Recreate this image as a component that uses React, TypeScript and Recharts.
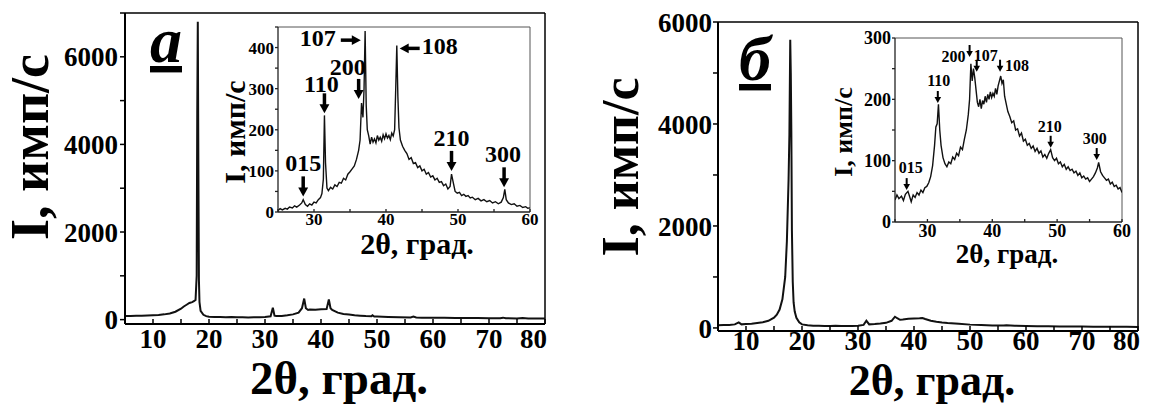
import { LineChart, Line, XAxis, YAxis, ReferenceLine, ReferenceDot } from "recharts"

const SERIF = "'Liberation Serif', 'Times New Roman', serif"
const INK = "#111"

// ---- panel а: full scan ----
const mainA2Theta = [
  5, 6, 7, 8, 9, 10, 11, 12, 13, 14, 15, 15.5, 16, 16.5, 17, 17.3, 17.6, 17.8, 17.9, 18.0, 18.1, 18.2, 18.3,
  18.5, 19, 19.5, 20, 21, 22, 23, 24, 25, 26, 27, 28, 29, 30, 31, 31.4, 31.7, 32, 33, 34, 35, 36, 36.6, 37.0,
  37.3, 37.7, 38, 39, 40, 41, 41.4, 41.7, 42, 43, 44, 45, 46, 47, 48, 49, 49.2, 49.5, 50, 52, 54, 56, 56.5, 57,
  58, 60, 62, 64, 66, 68, 70, 72, 72.5, 73, 75, 76, 77, 80,
]
const mainAIntensity = [
  80, 85, 90, 88, 95, 100, 105, 120, 140, 180, 250, 300, 340, 380, 400, 420, 450, 1000, 4700, 6800, 3600, 900, 400,
  200, 110, 80, 65, 60, 58, 55, 57, 52, 55, 50, 55, 52, 60, 75, 270, 90, 80, 85, 100, 120, 160, 260, 480,
  260, 220, 230, 225, 235, 240, 460, 260, 220, 160, 130, 115, 100, 90, 80, 75, 100, 72, 70, 62, 55, 50, 70, 48,
  45, 42, 40, 38, 36, 35, 34, 32, 45, 30, 28, 35, 26, 25,
]

// ---- panel а: inset 25–60° ----
const insetA2Theta = [
  25, 25.3, 25.6, 26, 26.3, 26.6, 27, 27.3, 27.6, 28, 28.3, 28.5, 28.8, 29.1, 29.4, 29.7, 30, 30.3, 30.6, 30.9,
  31.1, 31.3, 31.45, 31.6, 31.8, 32, 32.3, 32.6, 32.9, 33.2, 33.5, 33.8, 34.1, 34.4, 34.7, 35, 35.3, 35.6, 35.9,
  36.2, 36.4, 36.6, 36.8, 36.95, 37.1, 37.25, 37.4, 37.6, 37.8, 38, 38.2, 38.4, 38.6, 38.8, 39, 39.2, 39.4, 39.6,
  39.8, 40, 40.2, 40.4, 40.6, 40.8, 41, 41.2, 41.35, 41.5, 41.65, 41.8, 42, 42.3, 42.6, 42.9, 43.2, 43.5, 43.8,
  44.1, 44.4, 44.7, 45, 45.3, 45.6, 45.9, 46.2, 46.5, 46.8, 47.1, 47.4, 47.7, 48, 48.3, 48.6, 48.9, 49.1, 49.3,
  49.6, 49.9, 50.2, 50.5, 50.8, 51.1, 51.4, 51.7, 52, 52.4, 52.8, 53.2, 53.6, 54, 54.4, 54.8, 55.2, 55.6, 56,
  56.3, 56.5, 56.7, 57, 57.4, 57.8, 58.2, 58.6, 59, 59.4, 59.7, 60,
]
const insetAIntensity = [
  4, 8, 5, 9, 7, 12, 10, 15, 12, 17, 22, 30, 18, 14, 20, 17, 24, 22, 30, 35,
  45, 80, 235, 120, 58, 52, 60, 56, 66, 62, 72, 70, 82, 78, 92, 98, 105, 112, 128,
  150, 175, 265, 230, 300, 440, 260, 200, 185, 165, 182, 170, 178, 168, 186, 175, 182, 172, 188,
  178, 190, 180, 186, 176, 192, 185, 200, 300, 405, 280, 205, 175, 160, 150, 142, 128, 132, 118,
  120, 108, 112, 100, 104, 92, 96, 85, 88, 78, 82, 72, 74, 64, 68, 56, 62, 92, 75,
  50, 46, 48, 40, 43, 38, 40, 34, 36, 30, 33, 27, 30, 25, 28, 22, 25, 20, 24,
  35, 55, 30, 22, 18, 20, 14, 16, 11, 13, 9, 10,
]
const insetATags = ["015", "110", "200", "107", "108", "210", "300"]
const insetATag2Theta = [28.5, 31.45, 36.2, 36.5, 41.9, 49.1, 56.4]
const insetATagI = [38, 240, 275, 418, 398, 100, 60]
const insetATagDir = ["down", "down", "down", "right", "left", "down", "down"]

// ---- panel б: full scan ----
const mainB2Theta = [
  5, 6, 7, 8, 8.7, 9.2, 10, 11, 12, 13, 14, 15, 15.5, 16, 16.5, 17, 17.3, 17.6, 17.75, 17.9, 18.0, 18.1, 18.2,
  18.35, 18.5, 18.7, 19, 19.5, 20, 21, 22, 23, 24, 25, 26, 27, 28, 29, 30, 31, 31.5, 32, 33, 34, 35, 36, 36.6,
  37, 37.5, 38, 39, 40, 41, 41.5, 42, 43, 44, 45, 46, 48, 50, 52, 54, 56, 56.5, 58, 60, 62, 64, 66, 68, 70, 72,
  74, 76, 78, 80,
]
const mainBIntensity = [
  55, 60, 58, 70, 110, 70, 75, 80, 95, 110, 140, 200, 260, 360, 560, 1000, 1700, 2900, 3800, 5650, 5000, 3800, 1900,
  900, 500, 320, 200, 110, 70, 55, 45, 42, 40, 38, 42, 36, 40, 38, 45, 60, 140, 70, 75, 85, 100, 140, 220,
  190, 160, 165, 180, 185, 190, 195, 175, 140, 120, 105, 95, 80, 65, 58, 50, 48, 55, 42, 38, 35, 32, 30, 28, 26, 25,
  24, 22, 22, 20,
]

// ---- panel б: inset 25–60° ----
const insetB2Theta = [
  25, 25.3, 25.6, 26, 26.3, 26.6, 27, 27.3, 27.5, 27.8, 28.1, 28.4, 28.7, 29, 29.3, 29.6, 29.9, 30.2, 30.5, 30.8,
  31.1, 31.3, 31.5, 31.7, 31.9, 32.1, 32.4, 32.7, 33, 33.3, 33.6, 33.9, 34.2, 34.5, 34.8, 35.1, 35.4, 35.7, 36,
  36.3, 36.5, 36.7, 36.9, 37.1, 37.3, 37.5, 37.7, 37.9, 38.1, 38.3, 38.5, 38.7, 38.9, 39.1, 39.3, 39.5, 39.7,
  39.9, 40.1, 40.3, 40.5, 40.7, 40.9, 41.1, 41.3, 41.5, 41.7, 41.9, 42.1, 42.4, 42.7, 43, 43.3, 43.6, 43.9, 44.2,
  44.5, 44.8, 45.1, 45.4, 45.7, 46, 46.3, 46.6, 46.9, 47.2, 47.5, 47.8, 48.1, 48.4, 48.7, 49, 49.3, 49.6, 49.9,
  50.2, 50.5, 50.8, 51.1, 51.4, 51.7, 52, 52.3, 52.6, 52.9, 53.2, 53.5, 53.8, 54.1, 54.4, 54.7, 55, 55.3, 55.6,
  55.9, 56.2, 56.4, 56.7, 57, 57.3, 57.6, 57.9, 58.2, 58.5, 58.8, 59.1, 59.4, 59.7, 60,
]
const insetBIntensity = [
  36, 44, 38, 42, 35, 45, 50, 40, 33, 44, 40, 48, 44, 52, 48, 56, 58, 64, 74, 92,
  125, 155, 160, 192, 150, 125, 105, 95, 90, 98, 95, 106, 102, 112, 108, 122, 118, 135, 150,
  175, 200, 258, 230, 250, 235, 215, 195, 188, 200, 185, 198, 192, 205, 195, 208, 200, 212,
  203, 210, 205, 218, 208, 222, 230, 238, 226, 232, 205, 195, 180, 172, 162, 165, 150, 152, 140,
  145, 132, 135, 125, 128, 120, 124, 115, 120, 112, 116, 106, 110, 104, 112, 118, 105, 100, 104,
  95, 98, 90, 94, 86, 90, 84, 86, 80, 83, 76, 80, 72, 75, 70, 72, 66, 70, 74,
  80, 88, 97, 82, 76, 72, 68, 70, 62, 65, 58, 60, 54, 56, 48,
]
const insetBTags = ["015", "110", "200", "107", "108", "210", "300"]
const insetBTag2Theta = [26.8, 31.6, 36.5, 37.6, 41.2, 49.0, 56.1]
const insetBTagI = [52, 194, 269, 245, 245, 121, 101]
const insetBTagDir = ["down", "down", "down", "down", "down", "down", "down"]

// axis ticks
const mainXTicks = [5, 10, 15, 20, 25, 30, 35, 40, 45, 50, 55, 60, 65, 70, 75, 80]
const mainAYTicks = [0, 1000, 2000, 3000, 4000, 5000, 6000, 7000]
const mainBYTicks = [0, 1000, 2000, 3000, 4000, 5000, 6000]
const insetXTicks = [25, 30, 35, 40, 45, 50, 55, 60]
const insetAYTicks = [0, 50, 100, 150, 200, 250, 300, 350, 400, 450]
const insetBYTicks = [0, 50, 100, 150, 200, 250, 300]

const zip = (xs: number[], ys: number[]) => xs.map((x, i) => ({ x, y: ys[i] }))

// text placement of the peak tags (px relative to the arrow tip)
const tagTextA: Record<string, { dx: number; dy: number; anchor: string }> = {
  "015": { dx: 0, dy: -25, anchor: "middle" },
  "110": { dx: -3, dy: -21, anchor: "middle" },
  "200": { dx: -11, dy: -24, anchor: "middle" },
  "107": { dx: -25, dy: 6, anchor: "end" },
  "108": { dx: 22, dy: 6, anchor: "start" },
  "210": { dx: 0, dy: -25, anchor: "middle" },
  "300": { dx: -1, dy: -25, anchor: "middle" },
}
const tagTextB: Record<string, { dx: number; dy: number; anchor: string }> = {
  "015": { dx: 4, dy: -17, anchor: "middle" },
  "110": { dx: 1, dy: -17, anchor: "middle" },
  "200": { dx: -4, dy: 5, anchor: "end" },
  "107": { dx: -3, dy: -11, anchor: "start" },
  "108": { dx: 5, dy: -1, anchor: "start" },
  "210": { dx: -1, dy: -16, anchor: "middle" },
  "300": { dx: -2, dy: -16, anchor: "middle" },
}

function tagShape(label: string, dir: string, place: { dx: number; dy: number; anchor: string }, size: number, len: number, head: number, shaft: number) {
  return (p: any) => {
    const { cx, cy } = p
    if (cx == null || cy == null) return <g />
    const hw = head * 0.55
    let body
    if (dir === "down") {
      body = (
        <g>
          <line x1={cx} y1={cy - len} x2={cx} y2={cy - head + 1} stroke="#000" strokeWidth={shaft} />
          <polygon points={`${cx - hw},${cy - head} ${cx + hw},${cy - head} ${cx},${cy}`} fill="#000" />
        </g>
      )
    } else if (dir === "right") {
      body = (
        <g>
          <line x1={cx - len} y1={cy} x2={cx - head + 1} y2={cy} stroke="#000" strokeWidth={shaft} />
          <polygon points={`${cx - head},${cy - hw} ${cx - head},${cy + hw} ${cx},${cy}`} fill="#000" />
        </g>
      )
    } else {
      body = (
        <g>
          <line x1={cx + len} y1={cy} x2={cx + head - 1} y2={cy} stroke="#000" strokeWidth={shaft} />
          <polygon points={`${cx + head},${cy - hw} ${cx + head},${cy + hw} ${cx},${cy}`} fill="#000" />
        </g>
      )
    }
    return (
      <g>
        {body}
        <text x={cx + place.dx} y={cy + place.dy} textAnchor={place.anchor as any} fontFamily={SERIF} fontWeight="bold" fontSize={size} fill="#000">
          {label}
        </text>
      </g>
    )
  }
}

function hTick(size: number, every: number, last: number) {
  return (p: any) => {
    const v = p.payload.value
    if (v % every !== 0) return <g />
    const anchor = v === last ? "end" : "middle"
    return (
      <text x={v === last ? p.x + 2 : p.x} y={p.y} dy="0.71em" textAnchor={anchor} fontFamily={SERIF} fontWeight="bold" fontSize={size} fill="#000">
        {v}
      </text>
    )
  }
}

function vTick(size: number, every: number) {
  return (p: any) => {
    const v = p.payload.value
    if (v % every !== 0) return <g />
    return (
      <text x={p.x} y={p.y} dy="0.355em" textAnchor="end" fontFamily={SERIF} fontWeight="bold" fontSize={size} fill="#000">
        {v}
      </text>
    )
  }
}

function Title({ x, y, size, text, rotate }: { x: number; y: number; size: number; text: string; rotate?: boolean }) {
  return (
    <text
      x={x}
      y={y}
      textAnchor="middle"
      dominantBaseline={rotate ? "central" : "auto"}
      transform={rotate ? `rotate(-90 ${x} ${y})` : undefined}
      fontFamily={SERIF}
      fontWeight="bold"
      fontSize={size}
      fill="#000"
    >
      {text}
    </text>
  )
}

function Letter({ x, y, text }: { x: number; y: number; text: string }) {
  return (
    <text x={x} y={y} textAnchor="middle" fontFamily={SERIF} fontWeight="bold" fontStyle="italic" fontSize={64} fill="#000" textDecoration="underline">
      {text}
    </text>
  )
}

function MainPanel(props: {
  left: number
  data: { x: number; y: number }[]
  yDomain: [number, number]
  yTicks: number[]
  margin: { top: number; right: number; bottom: number; left: number }
  yWidth: number
  xMargin: number
  yMargin: number
  yTitle: { x: number; y: number; size: number }
  xTitle: { x: number; y: number; size: number }
  letter: { x: number; y: number; text: string }
}) {
  const { left, data, yDomain, yTicks, margin, yWidth } = props
  return (
    <div style={{ position: "absolute", left, top: 0 }}>
      <LineChart width={560} height={405} data={data} margin={margin}>
        <XAxis
          type="number"
          dataKey="x"
          domain={[5, 80]}
          ticks={mainXTicks}
          interval={0}
          allowDataOverflow
          height={40}
          tickSize={-5}
          tickMargin={props.xMargin}
          tick={hTick(27, 10, 80)}
          axisLine={{ stroke: "#000", strokeWidth: 2 }}
          tickLine={{ stroke: "#000", strokeWidth: 1.5 }}
        />
        <YAxis
          type="number"
          domain={yDomain}
          ticks={yTicks}
          interval={0}
          allowDataOverflow
          width={yWidth}
          tickSize={5}
          tickMargin={props.yMargin}
          tick={vTick(27, 2000)}
          axisLine={{ stroke: "#000", strokeWidth: 2 }}
          tickLine={{ stroke: "#000", strokeWidth: 1.5 }}
        />
        <ReferenceLine x={80} stroke="#000" strokeWidth={1.5} />
        <ReferenceLine y={yDomain[1]} stroke="#000" strokeWidth={1.5} />
        <Line type="linear" dataKey="y" stroke={INK} strokeWidth={2} dot={false} isAnimationActive={false} />
        <Title x={props.yTitle.x} y={props.yTitle.y} size={props.yTitle.size} text="I, имп/с" rotate />
        <Title x={props.xTitle.x} y={props.xTitle.y} size={props.xTitle.size} text="2θ, град." />
        <Letter x={props.letter.x} y={props.letter.y} text={props.letter.text} />
      </LineChart>
    </div>
  )
}

function InsetPanel(props: {
  left: number
  width: number
  height: number
  data: { x: number; y: number }[]
  yMax: number
  yTicks: number[]
  margin: { top: number; right: number; bottom: number; left: number }
  yWidth: number
  tickFont: number
  xMargin: number
  tags: string[]
  tagX: number[]
  tagY: number[]
  tagDir: string[]
  tagText: Record<string, { dx: number; dy: number; anchor: string }>
  tagFont: number
  arrow: { len: number; head: number; shaft: number }
  yTitle: { x: number; y: number; size: number }
  xTitle: { x: number; y: number; size: number }
}) {
  const { data, yMax, margin } = props
  return (
    <div style={{ position: "absolute", left: props.left, top: 0 }}>
      <LineChart width={props.width} height={props.height} data={data} margin={margin}>
        <XAxis
          type="number"
          dataKey="x"
          domain={[25, 60]}
          ticks={insetXTicks}
          interval={0}
          allowDataOverflow
          height={30}
          tickSize={-3}
          tickMargin={props.xMargin}
          tick={hTick(props.tickFont, 10, 999)}
          axisLine={{ stroke: "#222", strokeWidth: 1.3 }}
          tickLine={{ stroke: "#222", strokeWidth: 1.3 }}
        />
        <YAxis
          type="number"
          domain={[0, yMax]}
          ticks={props.yTicks}
          interval={0}
          allowDataOverflow
          width={props.yWidth}
          tickSize={3}
          tickMargin={1}
          tick={vTick(props.tickFont, 100)}
          axisLine={{ stroke: "#222", strokeWidth: 1.3 }}
          tickLine={{ stroke: "#222", strokeWidth: 1.3 }}
        />
        <ReferenceLine x={60} stroke="#555" strokeWidth={1} />
        <ReferenceLine y={yMax} stroke="#555" strokeWidth={1} />
        <Line type="linear" dataKey="y" stroke={INK} strokeWidth={1.4} dot={false} isAnimationActive={false} />
        {props.tags.map((t, i) => (
          <ReferenceDot
            key={t}
            x={props.tagX[i]}
            y={props.tagY[i]}
            r={0}
            ifOverflow="visible"
            shape={tagShape(t, props.tagDir[i], props.tagText[t], props.tagFont, props.arrow.len, props.arrow.head, props.arrow.shaft)}
          />
        ))}
        <Title x={props.yTitle.x} y={props.yTitle.y} size={props.yTitle.size} text="I, имп/с" rotate />
        <Title x={props.xTitle.x} y={props.xTitle.y} size={props.xTitle.size} text="2θ, град." />
      </LineChart>
    </div>
  )
}

export default function App() {
  return (
    <div style={{ position: "absolute", left: 0, top: 0, width: 1154, height: 405, background: "#fff", overflow: "hidden" }}>
      <MainPanel
        left={0}
        data={zip(mainA2Theta, mainAIntensity)}
        yDomain={[-100, 7000]}
        yTicks={mainAYTicks}
        margin={{ top: 13, right: 15, bottom: 41, left: 0 }}
        yWidth={125}
        xMargin={10}
        yMargin={2}
        yTitle={{ x: 30, y: 147, size: 54 }}
        xTitle={{ x: 339, y: 394, size: 47 }}
        letter={{ x: 166, y: 62, text: "а" }}
      />
      <MainPanel
        left={590}
        data={zip(mainB2Theta, mainBIntensity)}
        yDomain={[-60, 6000]}
        yTicks={mainBYTicks}
        margin={{ top: 22, right: 12, bottom: 34, left: 0 }}
        yWidth={128}
        xMargin={5}
        yMargin={1}
        yTitle={{ x: 30, y: 167, size: 52 }}
        xTitle={{ x: 342, y: 395, size: 44 }}
        letter={{ x: 165, y: 80, text: "б" }}
      />
      <InsetPanel
        left={200}
        width={345}
        height={265}
        data={zip(insetA2Theta, insetAIntensity)}
        yMax={450}
        yTicks={insetAYTicks}
        margin={{ top: 27, right: 15, bottom: 23, left: 0 }}
        yWidth={78}
        tickFont={17}
        xMargin={4}
        tags={insetATags}
        tagX={insetATag2Theta}
        tagY={insetATagI}
        tagDir={insetATagDir}
        tagText={tagTextA}
        tagFont={24}
        arrow={{ len: 20, head: 9, shaft: 3.5 }}
        yTitle={{ x: 34, y: 132, size: 30 }}
        xTitle={{ x: 217, y: 254, size: 30 }}
      />
      <InsetPanel
        left={800}
        width={340}
        height={275}
        data={zip(insetB2Theta, insetBIntensity)}
        yMax={300}
        yTicks={insetBYTicks}
        margin={{ top: 38, right: 18, bottom: 23, left: 0 }}
        yWidth={95}
        tickFont={18}
        xMargin={5}
        tags={insetBTags}
        tagX={insetBTag2Theta}
        tagY={insetBTagI}
        tagDir={insetBTagDir}
        tagText={tagTextB}
        tagFont={16}
        arrow={{ len: 12, head: 6, shaft: 2 }}
        yTitle={{ x: 43, y: 132, size: 26 }}
        xTitle={{ x: 207, y: 263, size: 27 }}
      />
    </div>
  )
}
